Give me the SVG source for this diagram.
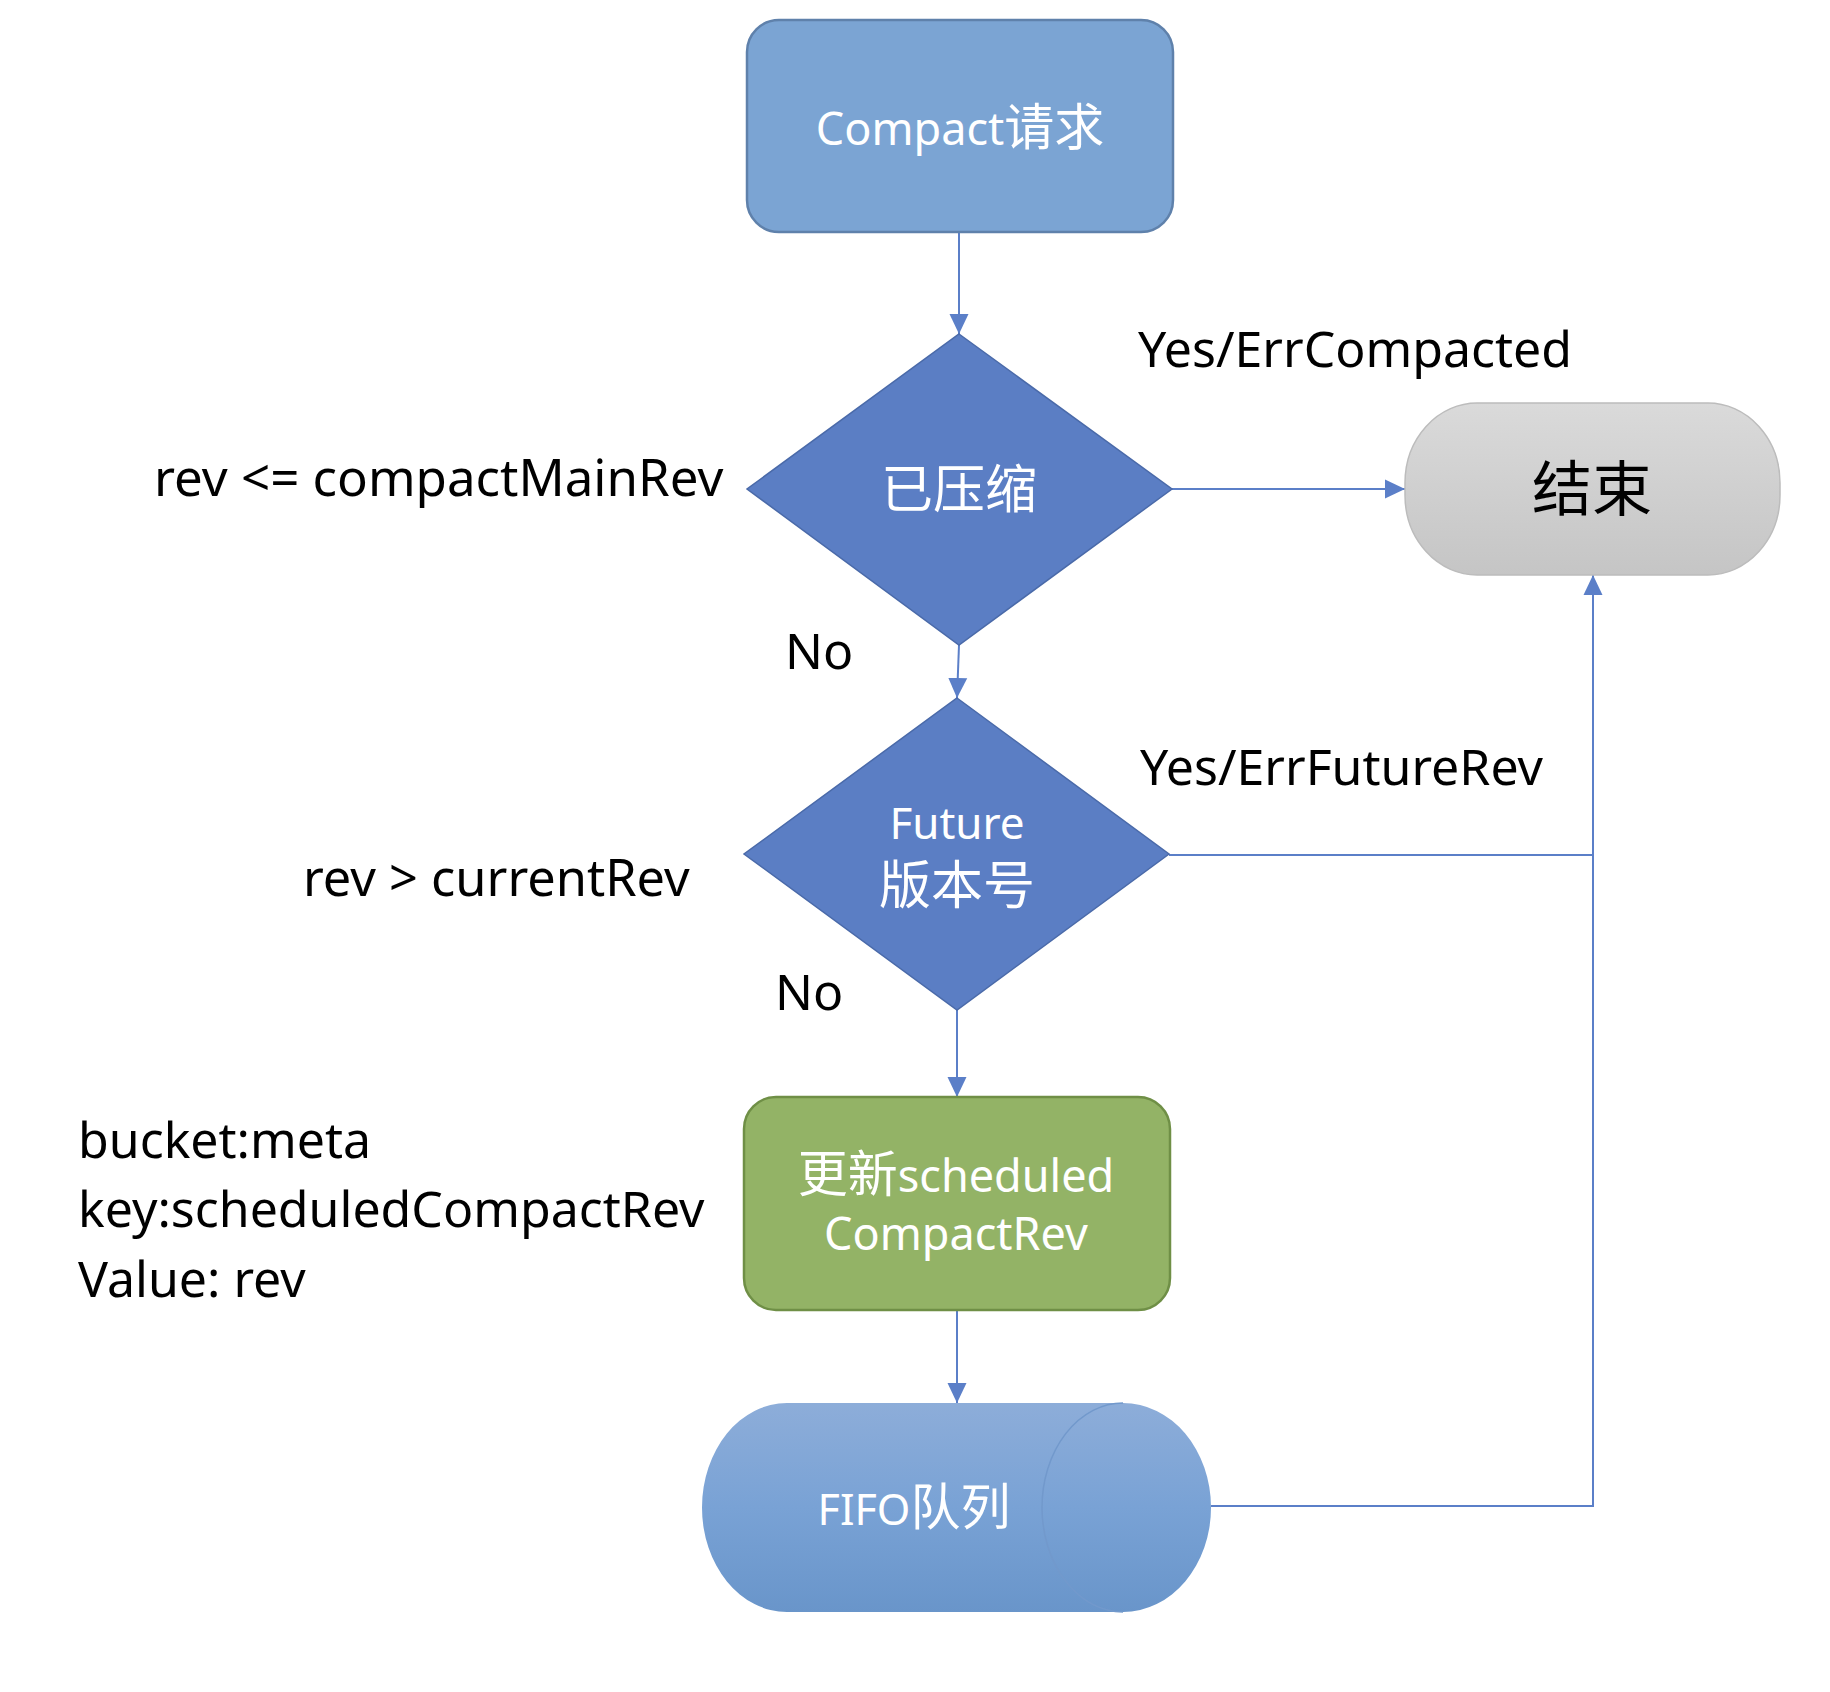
<svg xmlns="http://www.w3.org/2000/svg" width="1830" height="1692" viewBox="0 0 1830 1692">
<style>
text{font-family:"Noto Sans","Noto Sans CJK SC",sans-serif}
.lbl{font-size:50px;fill:#000}
.nt{fill:#fff;text-anchor:middle;font-size:45px}
.cjk{font-size:50px}
.conn{fill:none;stroke:#5b7fc8;stroke-width:2}
</style>
<defs>
<marker id="arr" viewBox="0 0 20 20" refX="20" refY="10" markerWidth="20" markerHeight="20" markerUnits="userSpaceOnUse" orient="auto">
<path d="M0,0.5 L20,10 L0,19.5 Z" fill="#5b7fc8"/>
</marker>
<linearGradient id="gGray" x1="0" y1="0" x2="0" y2="1">
<stop offset="0" stop-color="#dadada"/>
<stop offset="1" stop-color="#c5c5c5"/>
</linearGradient>
<linearGradient id="gBlue" x1="0" y1="0" x2="0" y2="1">
<stop offset="0" stop-color="#8dadd9"/>
<stop offset="0.5" stop-color="#79a2d5"/>
<stop offset="1" stop-color="#6995ca"/>
</linearGradient>
</defs>
<rect width="1830" height="1692" fill="#fff"/>

<g id="connectors">
<path class="conn" d="M959,232 L959,334" marker-end="url(#arr)"/>
<path class="conn" d="M1172,489 L1405,489" marker-end="url(#arr)"/>
<path class="conn" d="M959,645 L957,698" marker-end="url(#arr)"/>
<path class="conn" d="M957,1010 L957,1097" marker-end="url(#arr)"/>
<path class="conn" d="M957,1310 L957,1403" marker-end="url(#arr)"/>
<path class="conn" d="M1169,855 L1593,855"/>
<path class="conn" d="M1211,1506 L1593,1506 L1593,575" marker-end="url(#arr)"/>
</g>

<g id="compact">
<rect x="747" y="20" width="426" height="212" rx="32" fill="#7ba4d3" stroke="#5f81ab" stroke-width="2.5"/>
<text class="nt" x="960" y="145">Compact<tspan class="cjk">请求</tspan></text>
</g>

<g id="compacted">
<polygon points="959,334 1172,489 959,645 747,489" fill="#5b7ec4" stroke="#4a6aa9" stroke-width="1.5"/>
<text class="nt" x="959" y="508" style="font-size:52px">已压缩</text>
</g>

<g id="end">
<rect x="1405" y="403" width="375" height="172" rx="72" ry="80" fill="url(#gGray)" stroke="#bcbcbc" stroke-width="1.5"/>
<text x="1592" y="511" text-anchor="middle" style="font-size:60px;fill:#000">结束</text>
</g>

<g id="future">
<polygon points="957,698 1169,854 957,1010 744,854" fill="#5b7ec4" stroke="#4a6aa9" stroke-width="1.5"/>
<text class="nt" x="957" y="839" style="font-size:44px">Future</text>
<text class="nt" x="957" y="904" style="font-size:52px">版本号</text>
</g>

<g id="update">
<rect x="744" y="1097" width="426" height="213" rx="32" fill="#93b366" stroke="#6f8f46" stroke-width="2.5"/>
<text class="nt" x="956" y="1192"><tspan class="cjk">更新</tspan>scheduled</text>
<text class="nt" x="956" y="1250">CompactRev</text>
</g>

<g id="fifo">
<path d="M787,1403 L1123,1403 A88,104.5 0 0 1 1123,1612 L787,1612 A85,104.5 0 0 1 787,1403 Z" fill="url(#gBlue)"/>
<path d="M1123,1403 A81,104.5 0 0 0 1123,1612" fill="none" stroke="#7299cc" stroke-width="1.5"/>
<text class="nt" x="914" y="1525" style="font-size:43px">FIFO<tspan class="cjk">队列</tspan></text>
</g>

<g id="labels">
<text class="lbl" x="1138" y="367">Yes/ErrCompacted</text>
<text class="lbl" x="154" y="496" style="font-size:51px">rev &lt;= compactMainRev</text>
<text class="lbl" x="785" y="669">No</text>
<text class="lbl" x="1140" y="785">Yes/ErrFutureRev</text>
<text class="lbl" x="303" y="896" style="font-size:50.5px">rev &gt; currentRev</text>
<text class="lbl" x="775" y="1010">No</text>
<text class="lbl" x="78" y="1158">bucket:meta</text>
<text class="lbl" x="78" y="1227">key:scheduledCompactRev</text>
<text class="lbl" x="78" y="1297">Value: rev</text>
</g>
</svg>
